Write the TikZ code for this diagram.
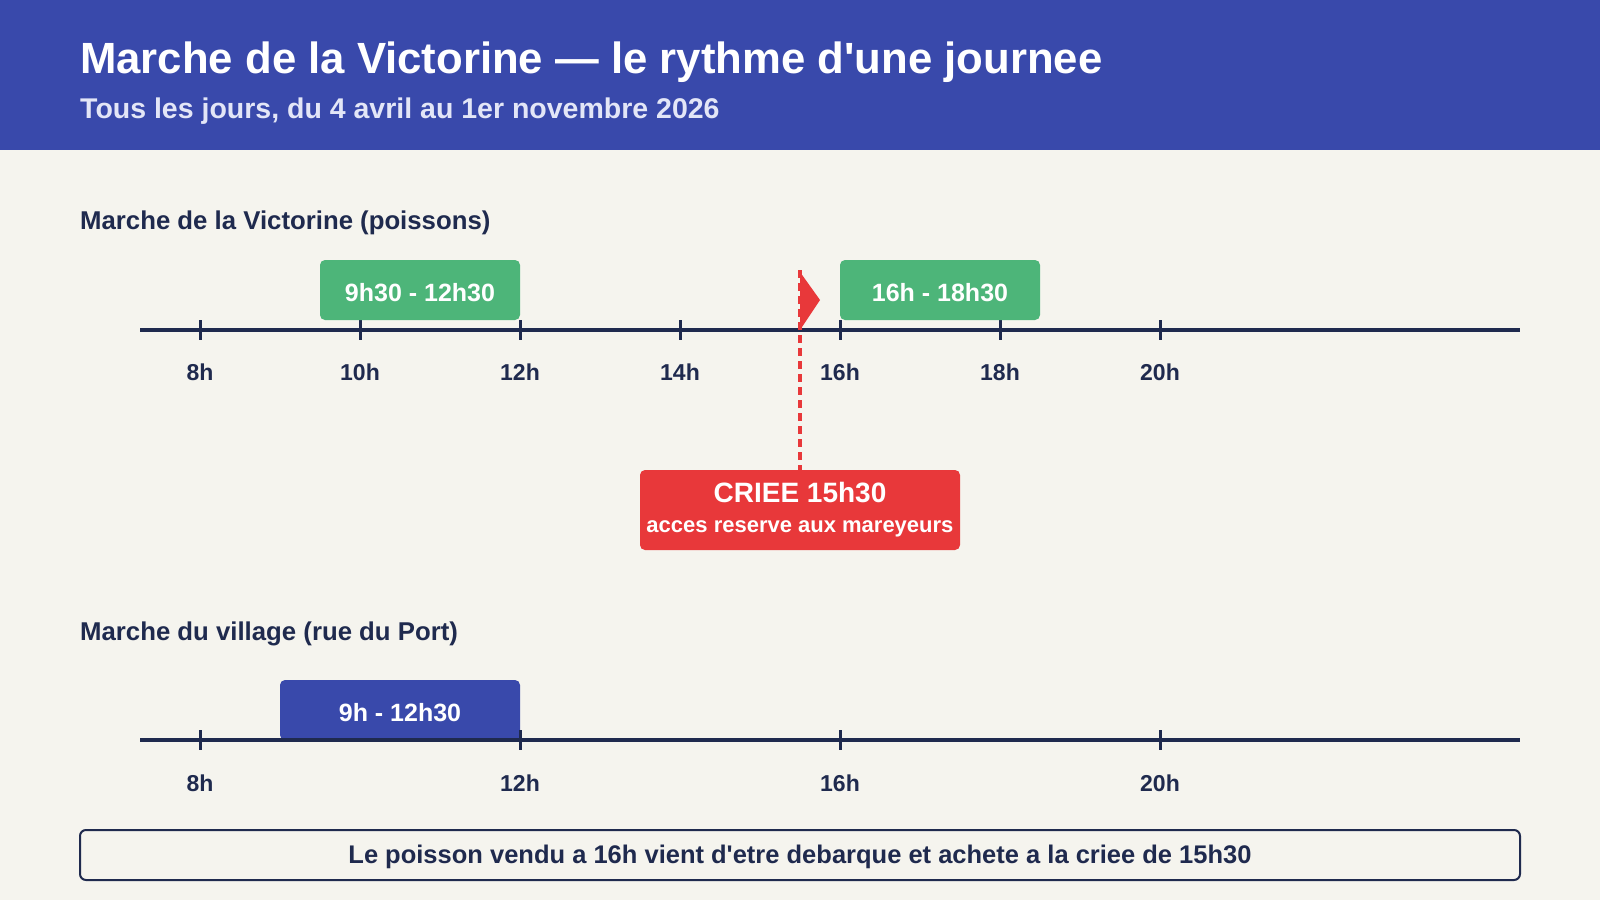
\documentclass[tikz,border=0pt]{standalone}
\usepackage{fontspec}
\setmainfont[Ligatures=TeXOff]{Liberation Sans}
\definecolor{indigo}{HTML}{3949AB}
\definecolor{navy}{HTML}{1F2A4E}
\definecolor{mint}{HTML}{4DB579}
\definecolor{alert}{HTML}{E8383A}
\definecolor{paper}{HTML}{F5F4EE}
\definecolor{lav}{HTML}{E3E6F7}
\tikzset{
  fs/.style={font=\fontsize{#1}{#1}\selectfont\bfseries},
  axisline/.style={navy, line width=4pt},
  tickmark/.style={navy, line width=3pt},
  ticklabel/.style={fs=23, text=navy, anchor=base, inner sep=0pt},
  slot/.style={rounded corners=5pt, minimum height=60pt, text=white, fs=25, inner sep=0pt, text height=22pt, text depth=0pt},
  sectionlabel/.style={fs=25.75, text=navy, anchor=base west, inner sep=0pt},
}
\begin{document}
\begin{tikzpicture}[x=1pt,y=-1pt]
\useasboundingbox (0,0) rectangle (1600,900);
\fill[paper] (0,0) rectangle (1600,900);
% header
\fill[indigo] (0,0) rectangle (1600,150);
\node[fs=43.7, text=white, anchor=base west, inner sep=0pt] (title) at (80,73) {Marche de la Victorine — le rythme d'une journee};
\node[fs=28.5, text=lav, anchor=base west, inner sep=0pt] (subtitle) at (80,118) {Tous les jours, du 4 avril au 1er novembre 2026};
% section 1
\node[sectionlabel] (sec1) at (80,229) {Marche de la Victorine (poissons)};
\coordinate (a1s) at (140,330);
\coordinate (a1e) at (1520,330);
\draw[axisline] (a1s) -- (a1e);
\foreach \h/\x in {8/200,10/360,12/520,14/680,16/840,18/1000,20/1160}{
  \draw[tickmark] (\x,320) -- (\x,340);
  \node[ticklabel] (t1-\h) at (\x,380) {\h h};
}
\node[slot, fill=mint, minimum width=200pt] (m1) at (420,290) {9h30 - 12h30};
\node[slot, fill=mint, minimum width=200pt] (m2) at (940,290) {16h - 18h30};
% criee
\node[fill=alert, rounded corners=5pt, minimum width=320pt, minimum height=80pt, inner sep=0pt] (criee) at (800,510) {};
\node[fs=28, text=white, anchor=base, inner sep=0pt] (crieeA) at (800,502) {CRIEE 15h30};
\node[fs=22, text=white, anchor=base, inner sep=0pt] (crieeB) at (800,532) {acces reserve aux mareyeurs};
\coordinate (flagtop) at (800,270);
\draw[alert, line width=3.5pt, dash pattern=on 8pt off 5pt] (flagtop) -- (criee.north);
\fill[alert] (800,272) -- (820,300) -- (800,330) -- cycle;
% section 2
\node[sectionlabel] (sec2) at (80,640) {Marche du village (rue du Port)};
\node[slot, fill=indigo, minimum width=240pt] (v1) at (400,710) {9h - 12h30};
\coordinate (a2s) at (140,740);
\coordinate (a2e) at (1520,740);
\draw[axisline] (a2s) -- (a2e);
\foreach \h/\x in {8/200,12/520,16/840,20/1160}{
  \draw[tickmark] (\x,730) -- (\x,750);
  \node[ticklabel] (t2-\h) at (\x,791) {\h h};
}
% footer
\node[draw=navy, line width=2pt, rounded corners=6pt, fill=paper, minimum width=1440pt, minimum height=50pt, fs=25.5, text=navy, inner sep=0pt, text height=20pt, text depth=2.6pt] (note) at (800,855) {Le poisson vendu a 16h vient d'etre debarque et achete a la criee de 15h30};
\end{tikzpicture}
\end{document}
